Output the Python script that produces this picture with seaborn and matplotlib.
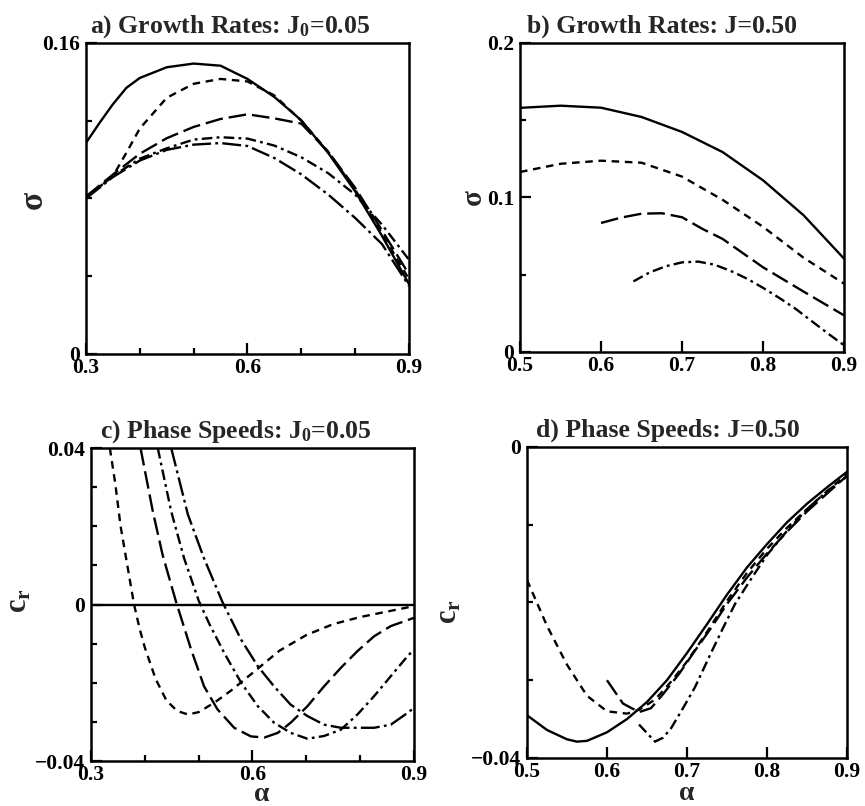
import matplotlib
matplotlib.use("Agg")
import matplotlib.pyplot as plt
import pandas as pd
import seaborn as sns
from matplotlib.ticker import FixedLocator

# ---------------- growth rates, J0 = 0.05 ----------------
ga_x = [0.30, 0.35, 0.40, 0.45, 0.50, 0.55, 0.60, 0.65, 0.70, 0.75, 0.80, 0.85, 0.90]
ga_1x = [0.30, 0.325, 0.35, 0.375, 0.40, 0.45, 0.50, 0.55, 0.60, 0.65, 0.70, 0.75, 0.80, 0.85, 0.90]
ga_1 = [0.1086, 0.1188, 0.1285, 0.1369, 0.1420, 0.1475, 0.1494, 0.1483, 0.1415, 0.1322, 0.1202,
        0.1034, 0.0837, 0.0607, 0.0360]
ga_2x = [0.30, 0.325, 0.35, 0.375, 0.40, 0.45, 0.50, 0.55, 0.60, 0.65, 0.70, 0.75, 0.80, 0.85, 0.90]
ga_2 = [0.0810, 0.0860, 0.0915, 0.1035, 0.1160, 0.1318, 0.1390, 0.1415, 0.1402, 0.1330, 0.1200, 0.1040, 0.0845, 0.0620, 0.0385]
ga_3 = [0.0810, 0.0923, 0.1030, 0.1110, 0.1168, 0.1209, 0.1233, 0.1212, 0.1185, 0.1040, 0.0855, 0.0635, 0.0410]
ga_4 = [0.0805, 0.0915, 0.1005, 0.1058, 0.1103, 0.1115, 0.1108, 0.1072, 0.1012, 0.0930, 0.0820, 0.0665, 0.0485]
ga_5 = [0.0800, 0.0910, 0.0995, 0.1050, 0.1077, 0.1085, 0.1070, 0.1008, 0.0924, 0.0820, 0.0700, 0.0565, 0.0350]

# ---------------- growth rates, J = 0.50 ----------------
gb_x = [0.50, 0.55, 0.60, 0.65, 0.70, 0.75, 0.80, 0.85, 0.90]
gb_1 = [0.1580, 0.1594, 0.1581, 0.1521, 0.1424, 0.1294, 0.1111, 0.0885, 0.0604]
gb_2 = [0.1165, 0.1218, 0.1238, 0.1225, 0.1135, 0.0985, 0.0810, 0.0610, 0.0442]
gb_3x = [0.60, 0.625, 0.65, 0.675, 0.70, 0.725, 0.75, 0.80, 0.85, 0.90]
gb_3 = [0.0835, 0.0870, 0.0895, 0.0898, 0.0872, 0.0797, 0.0732, 0.0548, 0.0391, 0.0237]
gb_4x = [0.64, 0.66, 0.68, 0.70, 0.72, 0.74, 0.76, 0.78, 0.80, 0.82, 0.84, 0.86, 0.88, 0.90]
gb_4 = [0.0457, 0.0515, 0.0555, 0.0580, 0.0585, 0.0565, 0.0525, 0.0475, 0.0415, 0.0350, 0.0280, 0.0200, 0.0120, 0.0043]

# ---------------- phase speeds, J0 = 0.05 ----------------
pc_1x = [0.30, 0.90]
pc_1 = [0.0, 0.0]
pc_2x = [0.335, 0.345, 0.355, 0.365, 0.38, 0.39, 0.40, 0.42, 0.44, 0.46, 0.48, 0.50, 0.53, 0.56,
         0.60, 0.65, 0.70, 0.75, 0.80, 0.85, 0.90]
pc_2 = [0.040, 0.031, 0.020, 0.012, 0.0, -0.006, -0.011, -0.019, -0.0245, -0.0272, -0.0281, -0.0275,
        -0.025, -0.022, -0.0175, -0.0118, -0.0078, -0.0050, -0.0032, -0.0018, -0.0004]
pc_3x = [0.392, 0.415, 0.433, 0.458, 0.486, 0.51, 0.535, 0.566, 0.597, 0.622, 0.647, 0.671, 0.702,
         0.733, 0.764, 0.795, 0.826, 0.857, 0.90]
pc_3 = [0.040, 0.0237, 0.0127, 0.0007, -0.0115, -0.0209, -0.0268, -0.0315, -0.0337, -0.0340, -0.0328,
        -0.0302, -0.0260, -0.0209, -0.0162, -0.0119, -0.0081, -0.0055, -0.0034]
pc_4x = [0.424, 0.449, 0.473, 0.50, 0.52, 0.548, 0.579, 0.61, 0.64, 0.671, 0.702, 0.733, 0.764, 0.795,
         0.826, 0.857, 0.888, 0.90]
pc_4 = [0.040, 0.0238, 0.0118, 0.001, -0.005, -0.0125, -0.0200, -0.0260, -0.0302, -0.0328, -0.0343,
        -0.0336, -0.0320, -0.0281, -0.0234, -0.0183, -0.0132, -0.0115]
pc_5x = [0.449, 0.48, 0.51, 0.544, 0.579, 0.61, 0.64, 0.671, 0.702, 0.733, 0.764, 0.795, 0.826, 0.857,
         0.888, 0.90]
pc_5 = [0.040, 0.023, 0.0118, 0.0007, -0.0090, -0.0158, -0.0209, -0.0256, -0.0285, -0.0307, -0.0315,
        -0.0315, -0.0315, -0.0307, -0.0277, -0.0264]

# ---------------- phase speeds, J = 0.50 ----------------
pd_1x = [0.50, 0.525, 0.55, 0.5625, 0.575, 0.60, 0.625, 0.65, 0.675, 0.70, 0.725, 0.75, 0.775, 0.80,
         0.825, 0.85, 0.875, 0.90]
pd_1 = [-0.0345, -0.0364, -0.0376, -0.0379, -0.0378, -0.0367, -0.0350, -0.0328, -0.0300, -0.0265,
        -0.0228, -0.0190, -0.0155, -0.0125, -0.0097, -0.0073, -0.0052, -0.0032]
pd_2x = [0.50, 0.525, 0.55, 0.575, 0.60, 0.625, 0.64, 0.66, 0.68, 0.70, 0.725, 0.75, 0.775, 0.80,
         0.825, 0.85, 0.875, 0.90]
pd_2 = [-0.0171, -0.0230, -0.0280, -0.0320, -0.0340, -0.0343, -0.0338, -0.0325, -0.0302, -0.0276,
        -0.0238, -0.0198, -0.0162, -0.0131, -0.0104, -0.0080, -0.0057, -0.0035]
pd_3x = [0.60, 0.62, 0.64, 0.655, 0.67, 0.69, 0.71, 0.73, 0.75, 0.775, 0.80, 0.825, 0.85, 0.875, 0.90]
pd_3 = [-0.0300, -0.0330, -0.0341, -0.0336, -0.0318, -0.0292, -0.0262, -0.0233, -0.0202, -0.0168,
        -0.0137, -0.0109, -0.0083, -0.0060, -0.0037]
pd_4x = [0.64, 0.65, 0.66, 0.67, 0.68, 0.695, 0.71, 0.73, 0.745, 0.76, 0.78, 0.80, 0.825, 0.85, 0.875, 0.90]
pd_4 = [-0.0357, -0.0368, -0.0379, -0.0374, -0.0362, -0.0336, -0.0309, -0.0265, -0.0233, -0.0202,
        -0.0170, -0.0139, -0.0108, -0.0080, -0.0057, -0.0038]

# ---------------- titles and tick labels ----------------
titles = [r"a) Growth Rates: J$_\mathregular{0}$=0.05",
          "b) Growth Rates: J=0.50",
          r"c) Phase Speeds: J$_\mathregular{0}$=0.05",
          "d) Phase Speeds: J=0.50"]
a_xticks, a_xlabels = [0.3, 0.6, 0.9], ["0.3", "0.6", "0.9"]
a_yticks, a_ylabels = [0.0, 0.16], ["0", "0.16"]
b_xticks, b_xlabels = [0.5, 0.6, 0.7, 0.8, 0.9], ["0.5", "0.6", "0.7", "0.8", "0.9"]
b_yticks, b_ylabels = [0.0, 0.1, 0.2], ["0", "0.1", "0.2"]
c_xticks, c_xlabels = [0.3, 0.6, 0.9], ["0.3", "0.6", "0.9"]
c_yticks, c_ylabels = [-0.04, 0.0, 0.04], ["\u22120.04", "0", "0.04"]
d_xticks, d_xlabels = [0.5, 0.6, 0.7, 0.8, 0.9], ["0.5", "0.6", "0.7", "0.8", "0.9"]
d_yticks, d_ylabels = [-0.04, 0.0], ["\u22120.04", "0"]

CASES = ["1", "2", "3", "4", "5"]
DASHES = {"1": "", "2": (3.2, 2.4), "3": (7.5, 2.5),
          "4": (4.5, 1.8, 1.2, 1.8), "5": (8.0, 1.8, 1.2, 1.8)}


def frame(series):
    parts = []
    for case, xs, ys in series:
        parts.append(pd.DataFrame({"alpha": xs, "value": ys, "case": case}))
    return pd.concat(parts, ignore_index=True)


sns.set_style("ticks")
plt.rcParams["font.family"] = ["Liberation Serif", "DejaVu Serif"]
plt.rcParams["font.weight"] = "bold"
plt.rcParams["mathtext.default"] = "regular"

fig = plt.figure(figsize=(8.65, 8.06), dpi=100)
ax_a = fig.add_axes([0.0994, 0.5608, 0.3734, 0.3859])
ax_b = fig.add_axes([0.6012, 0.5633, 0.3746, 0.3834])
ax_c = fig.add_axes([0.1052, 0.0558, 0.3734, 0.3883])
ax_d = fig.add_axes([0.6092, 0.0596, 0.3700, 0.3859])

panels = [
    (ax_a, frame([("1", ga_1x, ga_1), ("2", ga_2x, ga_2), ("3", ga_x, ga_3),
                  ("4", ga_x, ga_4), ("5", ga_x, ga_5)]),
     (0.3, 0.9), (0.0, 0.16), a_xticks, a_xlabels, [0.4, 0.5, 0.7, 0.8],
     a_yticks, a_ylabels, [0.04, 0.08, 0.12]),
    (ax_b, frame([("1", gb_x, gb_1), ("2", gb_x, gb_2), ("3", gb_3x, gb_3), ("4", gb_4x, gb_4)]),
     (0.5, 0.9), (0.0, 0.2), b_xticks, b_xlabels, [],
     b_yticks, b_ylabels, [0.05, 0.15]),
    (ax_c, frame([("1", pc_1x, pc_1), ("2", pc_2x, pc_2), ("3", pc_3x, pc_3),
                  ("4", pc_4x, pc_4), ("5", pc_5x, pc_5)]),
     (0.3, 0.9), (-0.04, 0.04), c_xticks, c_xlabels, [0.4, 0.5, 0.7, 0.8],
     c_yticks, c_ylabels, [-0.03, -0.02, -0.01, 0.01, 0.02, 0.03]),
    (ax_d, frame([("1", pd_1x, pd_1), ("2", pd_2x, pd_2), ("3", pd_3x, pd_3), ("4", pd_4x, pd_4)]),
     (0.5, 0.9), (-0.04, 0.0), d_xticks, d_xlabels, [],
     d_yticks, d_ylabels, [-0.03, -0.02, -0.01]),
]

title_x = [0.446, 0.438, 0.449, 0.440]

for i, (ax, df, xlim, ylim, xt, xl, xm, yt, yl, ym) in enumerate(panels):
    order = [c for c in CASES if c in set(df["case"])]
    sns.lineplot(data=df, x="alpha", y="value", style="case", style_order=order,
                 dashes={c: DASHES[c] for c in order}, color="black", linewidth=1.7,
                 estimator=None, sort=False, legend=False, ax=ax)
    ax.set_xlim(*xlim)
    ax.set_ylim(*ylim)
    ax.set_xlabel("")
    ax.set_ylabel("")
    ax.xaxis.set_major_locator(FixedLocator(xt))
    ax.set_xticklabels(xl)
    ax.yaxis.set_major_locator(FixedLocator(yt))
    ax.set_yticklabels(yl)
    ax.xaxis.set_minor_locator(FixedLocator(xm))
    ax.yaxis.set_minor_locator(FixedLocator(ym))
    ax.tick_params(which="both", direction="in", top=False, right=False, width=1.6, colors="black")
    ax.tick_params(which="major", length=8, labelsize=15.5, pad=3)
    ax.tick_params(which="minor", length=4.5)
    ax.tick_params(axis="y", which="major", pad=4)
    for lab in ax.get_xticklabels() + ax.get_yticklabels():
        lab.set_fontweight("bold")
    for sp in ax.spines.values():
        sp.set_visible(True)
        sp.set_linewidth(1.8)
        sp.set_color("black")
    ax.set_facecolor("white")
    ax.text(title_x[i], 1.032, titles[i], transform=ax.transAxes, ha="center", va="baseline",
            fontsize=18.5, fontweight="bold")

# axis symbols
ax_a.text(-0.164, 0.495, "\u03c3", transform=ax_a.transAxes, rotation=90, ha="center",
          va="center", fontsize=24, fontweight="bold")
ax_b.text(-0.145, 0.50, "\u03c3", transform=ax_b.transAxes, rotation=90, ha="center",
          va="center", fontsize=21, fontweight="bold")
ax_c.text(-0.223, 0.514, r"c$_\mathregular{r}$", transform=ax_c.transAxes, rotation=90,
          ha="center", va="center", fontsize=22, fontweight="bold")
ax_d.text(-0.244, 0.47, r"c$_\mathregular{r}$", transform=ax_d.transAxes, rotation=90,
          ha="center", va="center", fontsize=22, fontweight="bold")
ax_c.text(0.53, -0.108, "\u03b1", transform=ax_c.transAxes, ha="center", va="center",
          fontsize=20, fontweight="bold")
ax_d.text(0.50, -0.115, "\u03b1", transform=ax_d.transAxes, ha="center", va="center",
          fontsize=20, fontweight="bold")

fig.savefig("out.png", dpi=100, facecolor="white")
